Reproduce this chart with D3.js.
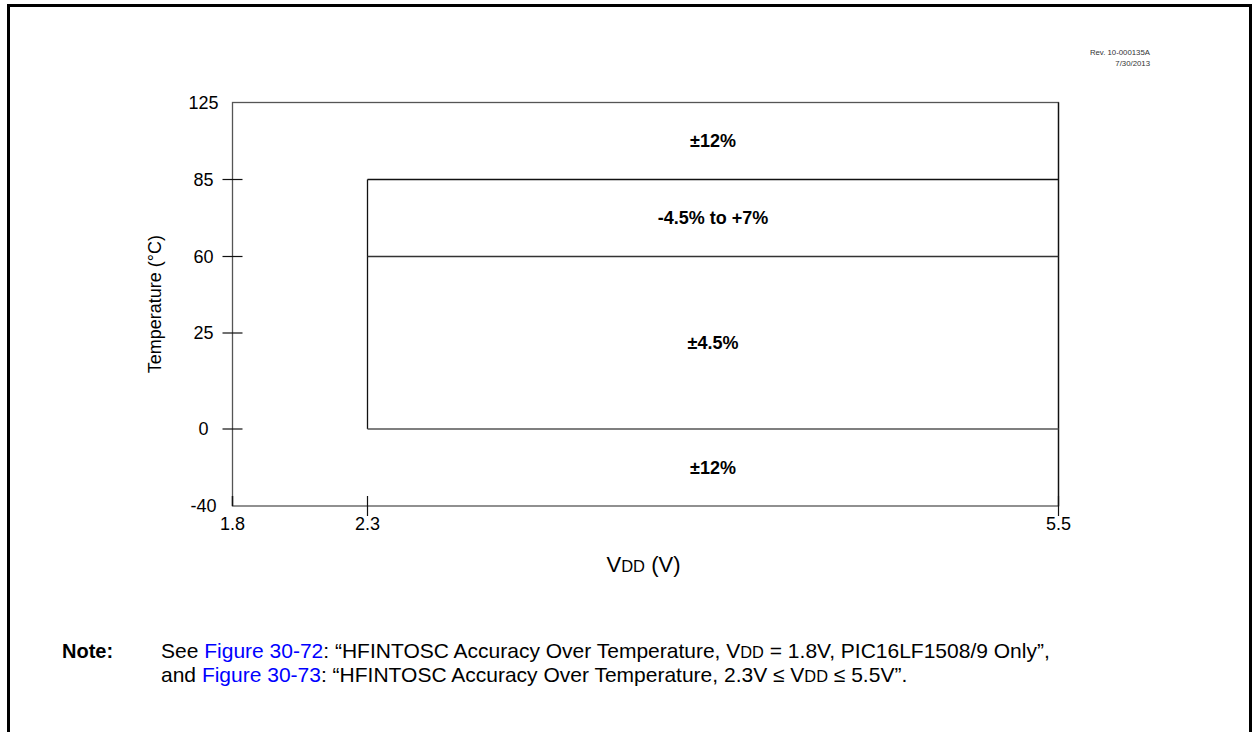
<!DOCTYPE html>
<html>
<head>
<meta charset="utf-8">
<script src="https://cdn.jsdelivr.net/npm/d3@7"></script>
<style>
  html, body { margin: 0; padding: 0; background: #fff; }
  svg { display: block; font-family: "Liberation Sans", Arial, sans-serif; }
</style>
</head>
<body>
<svg id="chart" width="1255" height="732"></svg>
<script>
// ---- data ----
const xTicks = [1.8, 2.3, 5.5];
const yTicks = [-40, 0, 25, 60, 85, 125];
const yTickMarks = [0, 25, 60, 85];
const xTickMarks = [2.3, 5.5];
const regionLabels = ["±12%", "-4.5% to +7%", "±4.5%", "±12%"];
const regionLow = [85, 60, 0, -40];
const regionHigh = [125, 85, 60, 0];
const regionVmin = 2.3;
const regionVmax = 5.5;
const innerBoxT = [0, 85];
const innerLineT = [60];
const yTitle = "Temperature (°C)";
const revLines = ["Rev. 10-000135A", "7/30/2013"];

// ---- layout ----
const svg = d3.select("#chart");
const x = d3.scaleLinear().domain(xTicks).range([232.5, 367.5, 1058.5]);
const y = d3.scaleLinear().domain(yTicks).range([506, 429, 333, 256.5, 179.5, 102.5]);

// outer border
svg.append("rect").attr("x", 8.5).attr("y", 5.5).attr("width", 1242).attr("height", 760)
  .attr("fill", "none").attr("stroke", "#000").attr("stroke-width", 3);

// rev text
svg.append("g").selectAll("text").data(revLines).join("text")
  .attr("x", 1150).attr("y", (d, i) => 55 + i * 10.5)
  .attr("text-anchor", "end").attr("font-size", 7.8).attr("fill", "#333").text(d => d);

// frame
const x0 = x(xTicks[0]), x1 = x(xTicks[xTicks.length - 1]);
const yb = y(yTicks[0]), yt = y(yTicks[yTicks.length - 1]);
svg.append("rect").attr("x", x0).attr("y", yt).attr("width", x1 - x0).attr("height", yb - yt)
  .attr("fill", "none").attr("stroke", "#555").attr("stroke-width", 1.3);
svg.append("line").attr("x1", x1).attr("x2", x1).attr("y1", yt).attr("y2", yb)
  .attr("stroke", "#111").attr("stroke-width", 1.3);

// inner box
const ix0 = x(regionVmin), ix1 = x(regionVmax);
svg.append("line").attr("x1", ix0).attr("x2", ix0).attr("y1", y(innerBoxT[1])).attr("y2", y(innerBoxT[0]))
  .attr("stroke", "#111").attr("stroke-width", 1.3);
svg.append("line").attr("x1", ix0).attr("x2", ix1).attr("y1", y(innerBoxT[1])).attr("y2", y(innerBoxT[1]))
  .attr("stroke", "#111").attr("stroke-width", 1.3);
svg.append("line").attr("x1", ix0).attr("x2", ix1).attr("y1", y(innerBoxT[0])).attr("y2", y(innerBoxT[0]))
  .attr("stroke", "#555").attr("stroke-width", 1.3);
svg.selectAll(".il").data(innerLineT).join("line")
  .attr("x1", ix0).attr("x2", ix1).attr("y1", d => y(d)).attr("y2", d => y(d))
  .attr("stroke", "#333").attr("stroke-width", 1.3);

// y ticks (crossing axis)
svg.selectAll(".yt").data(yTickMarks).join("line")
  .attr("x1", x0 - 10).attr("x2", x0 + 10).attr("y1", d => y(d)).attr("y2", d => y(d))
  .attr("stroke", "#111").attr("stroke-width", 1.2);
// x ticks
svg.selectAll(".xt").data(xTickMarks).join("line")
  .attr("x1", d => x(d)).attr("x2", d => x(d)).attr("y1", yb - 10).attr("y2", yb + 10)
  .attr("stroke", "#111").attr("stroke-width", 1.2);
svg.append("line").attr("x1", x0).attr("x2", x0).attr("y1", yb - 10).attr("y2", yb)
  .attr("stroke", "#111").attr("stroke-width", 1.5);

// tick labels
svg.selectAll(".yl").data(yTicks).join("text")
  .attr("x", 203.5).attr("y", d => y(d)).attr("dy", "0.35em")
  .attr("text-anchor", "middle").attr("font-size", 18).attr("fill", "#000").text(d => d);
svg.selectAll(".xl").data(xTicks).join("text")
  .attr("x", d => x(d)).attr("y", 530)
  .attr("text-anchor", "middle").attr("font-size", 18).attr("fill", "#000").text(d => d.toFixed(1));

// region labels
svg.selectAll(".rl").data(regionLabels).join("text")
  .attr("x", (ix0 + ix1) / 2)
  .attr("y", (d, i) => (y(regionLow[i]) + y(regionHigh[i])) / 2).attr("dy", "0.35em")
  .attr("text-anchor", "middle").attr("font-size", 18).attr("font-weight", "bold").text(d => d);

// axis titles
svg.append("text").attr("transform", `translate(161,${(yt + yb) / 2}) rotate(-90)`)
  .attr("text-anchor", "middle").attr("font-size", 18).text(yTitle);
const xt = svg.append("text").attr("x", (x0 + x1) / 2 - 2).attr("y", 572)
  .attr("text-anchor", "middle").attr("font-size", 22);
xt.append("tspan").text("V");
xt.append("tspan").attr("font-size", 16.5).text("DD");
xt.append("tspan").text(" (V)");

// note
const fs = 21;
svg.append("text").attr("x", 62).attr("y", 658).attr("font-size", 20).attr("font-weight", "bold").text("Note:");
const l1 = svg.append("text").attr("x", 161).attr("y", 658).attr("font-size", fs);
l1.append("tspan").text("See ");
l1.append("tspan").attr("fill", "#0000ff").text("Figure 30-72");
l1.append("tspan").text(": “HFINTOSC Accuracy Over Temperature, V");
l1.append("tspan").attr("font-size", fs * 0.78).text("DD");
l1.append("tspan").text(" = 1.8V, PIC16LF1508/9 Only”,");
const l2 = svg.append("text").attr("x", 161).attr("y", 682).attr("font-size", fs);
l2.append("tspan").text("and ");
l2.append("tspan").attr("fill", "#0000ff").text("Figure 30-73");
l2.append("tspan").text(": “HFINTOSC Accuracy Over Temperature, 2.3V ≤ V");
l2.append("tspan").attr("font-size", fs * 0.78).text("DD");
l2.append("tspan").text(" ≤ 5.5V”.");
</script>
</body>
</html>
